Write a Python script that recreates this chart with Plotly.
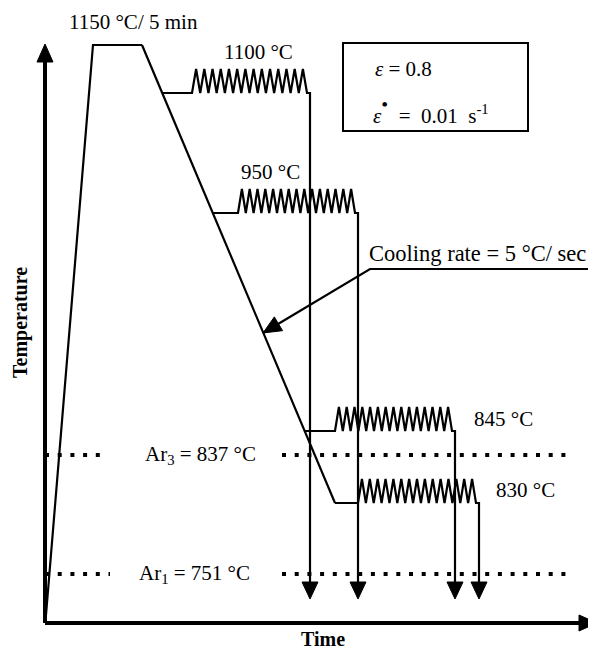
import numpy as np
import plotly.graph_objects as go

W, H = 596, 651
OFF = 8  # page body margin in the browser
FONT = "Liberation Serif"

# ---- schematic data (horizontal = time position, vertical = temperature level, measured top-down) ----
soak_label = "1150 °C/ 5 min"
heat_x = [46, 93, 142]          # heating ramp and soak plateau
heat_y = [615, 45, 45]
cool_start = (142, 45)          # start of continuous cooling line
cool_end = (335, 503)           # end of continuous cooling line

pass_labels = ["1100 °C", "950 °C", "845 °C", "830 °C"]
pass_level = [93, 213, 431, 503]        # level of each deformation pass
pass_zig_start = [192, 238, 335, 358]   # start of deformation (zigzag)
pass_zig_end = [310, 358, 455, 479]     # end of deformation / quench position
pass_peaks = [14, 15, 15, 15]
pass_label_pos = [(258, 52), (270, 172), (503, 419), (525, 490)]
quench_tip = 599

crit_labels = ["Ar<sub>3</sub> = 837 °C", "Ar<sub>1</sub> = 751 °C"]
crit_level = [455, 574]
crit_label_x = [200, 194]
crit_seg_left = [(45, 107), (45, 110)]
crit_seg_right = [(282, 573), (282, 573)]

cooling_label = "Cooling rate = 5 °C/ sec"
leader_x = [588, 370, 263]
leader_y = [269, 269, 333]

strain_text = ["<i>ε</i> = 0.8",
               "<i>ε</i><span style='font-size:28px'><sup>•</sup></span>\u00a0 = \u00a00.01\u00a0 s<sup>-1</sup>"]

fig = go.Figure()

def line(xs, ys, w=2.2):
    fig.add_trace(go.Scatter(x=xs, y=ys, mode="lines", line=dict(color="black", width=w),
                             hoverinfo="skip", showlegend=False))

def head(tip, base, L=16, hw=8):
    tx, ty = tip
    bx, by = base
    d = np.array([tx - bx, ty - by], float)
    d /= np.linalg.norm(d)
    n = np.array([-d[1], d[0]])
    b = np.array([tx, ty]) - d * L
    p1 = b + n * hw
    p2 = b - n * hw
    fig.add_trace(go.Scatter(x=[tx, p1[0], p2[0], tx], y=[ty, p1[1], p2[1], ty], mode="lines",
                             fill="toself", fillcolor="black", line=dict(color="black", width=1),
                             hoverinfo="skip", showlegend=False))

# axes with arrows
line([45, 45], [623, 58], w=4)
head((45, 44), (45, 623), L=18, hw=8)
line([45, 582], [623, 623], w=4)
head((597, 623), (45, 623), L=18, hw=8)

# heating / soak
line(heat_x, heat_y)
# cooling
line([cool_start[0], cool_end[0]], [cool_start[1], cool_end[1]])

slope = (cool_end[0] - cool_start[0]) / (cool_end[1] - cool_start[1])
for lvl, zs, ze, npk in zip(pass_level, pass_zig_start, pass_zig_end, pass_peaks):
    bx = cool_start[0] + (lvl - cool_start[1]) * slope
    amp = 24
    per = (ze - 3 - zs) / npk
    xs = [bx, zs]
    ys = [lvl, lvl]
    for k in range(npk):
        xs += [zs + per * (k + 0.5), zs + per * (k + 1)]
        ys += [lvl - amp, lvl]
    xs += [ze, ze]
    ys += [lvl, quench_tip - 16]
    line(xs, ys)
    head((ze, quench_tip), (ze, lvl), L=17, hw=8)

# critical temperatures (dotted)
for lvl, (a, b), (c, d) in zip(crit_level, crit_seg_left, crit_seg_right):
    for s, e in [(a, b), (c, d)]:
        fig.add_trace(go.Scatter(x=[s, e], y=[lvl, lvl], mode="lines",
                                 line=dict(color="black", width=4, dash="4px,8.7px"),
                                 hoverinfo="skip", showlegend=False))

# cooling-rate leader
line(leader_x, leader_y)
head((leader_x[2], leader_y[2]), (leader_x[1], leader_y[1]), L=18, hw=8)

# box
fig.add_shape(type="rect", x0=343, x1=528, y0=43, y1=131, line=dict(color="black", width=2))

def txt(x, y, s, xa="center", size=21, bold=False, angle=0):
    fig.add_annotation(x=x, y=y, text=("<b>%s</b>" % s) if bold else s, showarrow=False,
                       xanchor=xa, yanchor="middle", textangle=angle,
                       font=dict(family=FONT, size=size, color="black"))

txt(133, 22, soak_label)
for lab, (x, y) in zip(pass_labels, pass_label_pos):
    txt(x, y, lab)
for lab, x, y in zip(crit_labels, crit_label_x, crit_level):
    txt(x, y, lab)
txt(367, 253, cooling_label, xa="left", size=22.5)
txt(373, 69, strain_text[0], xa="left")
txt(371, 111, strain_text[1], xa="left")
txt(20, 323, "Temperature", bold=True, angle=-90, size=20)
txt(323, 639, "Time", bold=True, size=20)

fig.update_layout(
    width=W - OFF, height=H - OFF, margin=dict(l=0, r=0, t=0, b=0),
    paper_bgcolor="white", plot_bgcolor="white",
    xaxis=dict(range=[OFF, W], visible=False, fixedrange=True),
    yaxis=dict(range=[H, OFF], visible=False, fixedrange=True),
    showlegend=False,
)
fig.write_html("out.html")
